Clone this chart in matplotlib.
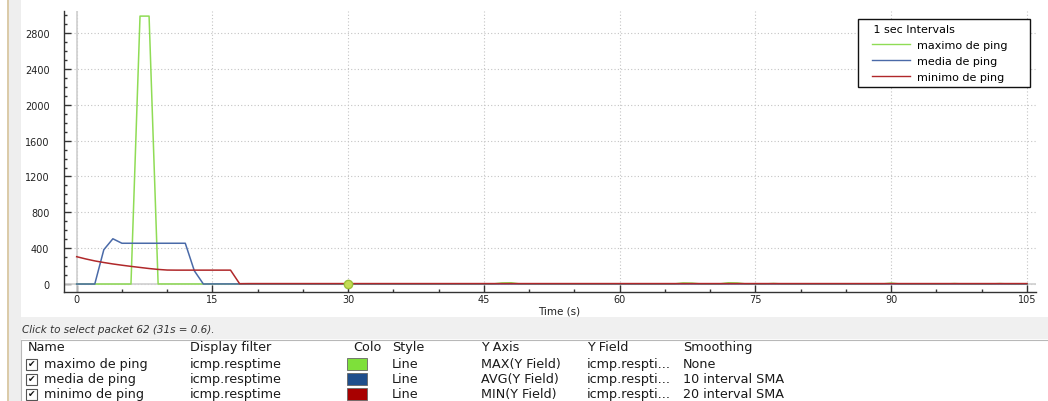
import numpy as np
import matplotlib
matplotlib.use("Agg")
import matplotlib.pyplot as plt
from matplotlib.patches import Rectangle
from matplotlib.lines import Line2D

# ---------------- data ----------------
time_s = list(range(0, 106))

max_ping = [0, 0, 0, 0, 0, 0, 0, 2990, 2990] + [0.6] * (106 - 9)
for t, v in {47: 12, 48: 14, 67: 12, 68: 10, 72: 14, 73: 12, 77: 6, 90: 10, 97: 5, 102: 5}.items():
    max_ping[t] = v

avg_ping = [0, 0, 0, 383, 505, 455, 455, 455, 455, 455, 455, 455, 455, 148, 0] + [1] * (106 - 15)

min_ping = [305, 280, 258, 240, 224, 210, 197, 185, 173, 163, 156,
            155, 155, 155, 155, 155, 155, 155, 4] + [5] * (106 - 19)

series_names = ["maximo de ping", "media de ping", "minimo de ping"]
line_colors = ["#8fdc55", "#4a6aa8", "#b0282a"]
swatch_colors = ["#7ee03a", "#1f4e8c", "#a80000"]
y_axis_fn = ["MAX(Y Field)", "AVG(Y Field)", "MIN(Y Field)"]
smoothing = ["None", "10 interval SMA", "20 interval SMA"]
display_filter = "icmp.resptime"
y_field = "icmp.respti..."
headers = ["Name", "Display filter", "Colo", "Style", "Y Axis", "Y Field", "Smoothing"]
header_x = [28, 190, 353, 392, 481, 587, 683]
status_text = "Click to select packet 62 (31s = 0.6)."
legend_title = "1 sec Intervals"

# ---------------- figure ----------------
W, H = 1048, 402
fig = plt.figure(figsize=(W / 100, H / 100), dpi=100)
fig.patch.set_facecolor("white")

def fx(x):
    return x / W

def fy(y):
    return 1 - y / H

def frect(x0, y0, x1, y1, **kw):
    fig.patches.append(Rectangle((fx(x0), fy(y1)), fx(x1) - fx(x0), fy(y0) - fy(y1),
                                 transform=fig.transFigure, figure=fig, **kw))

# background panels
frect(7, 0, 21, 402, facecolor="#eeeeee", edgecolor="none", zorder=0)
fig.add_artist(Line2D([fx(7.5), fx(7.5)], [0, 1], color="#d8c49c", lw=1.2, transform=fig.transFigure))
frect(21, 318, 1048, 340, facecolor="#f0f0f0", edgecolor="none", zorder=0)
fig.add_artist(Line2D([fx(21), fx(1048)], [fy(340.5), fy(340.5)], color="#b8b8b8", lw=0.8, transform=fig.transFigure))
fig.add_artist(Line2D([fx(21), fx(21)], [fy(340.5), 0], color="#b8b8b8", lw=0.8, transform=fig.transFigure))

# ---------------- plot ----------------
ax = fig.add_axes([fx(64), fy(293), fx(1036) - fx(64), fy(12) - fy(293)])
ax.set_facecolor("white")
ax.set_xlim(-1.4, 106.0)
ax.set_ylim(-89, 3047)

for s in ["top", "right"]:
    ax.spines[s].set_visible(False)
for s in ["left", "bottom"]:
    ax.spines[s].set_color("#333333")
    ax.spines[s].set_linewidth(1.0)

ax.set_xticks(np.arange(0, 106, 15))
ax.set_xticks(np.arange(0, 106, 5), minor=True)
ax.set_yticks(np.arange(0, 2801, 400))
ax.set_yticks(np.arange(0, 3001, 100), minor=True)
ax.tick_params(axis="both", which="major", direction="in", length=5, width=1,
               color="#333333", labelsize=7, labelcolor="#222222")
ax.tick_params(axis="both", which="minor", direction="in", length=2.5, width=1, color="#333333")
ax.tick_params(axis="y", which="major", pad=10.5)
ax.tick_params(axis="x", which="major", pad=1.5)

ax.grid(True, which="major", linestyle=(0, (1, 2)), color="#c4c4c4", linewidth=0.8)
ax.set_axisbelow(True)
ax.axhline(0, color="#cfcfcf", lw=1.2, zorder=1)
ax.axvline(0, color="#cfcfcf", lw=1.2, zorder=1)

ax.plot(time_s, max_ping, color=line_colors[0], lw=1.1, label=series_names[0], zorder=3)
ax.plot(time_s, avg_ping, color=line_colors[1], lw=1.1, label=series_names[1], zorder=4)
ax.plot(time_s, min_ping, color=line_colors[2], lw=1.1, label=series_names[2], zorder=5)
ax.plot([time_s[30]], [max_ping[30]], "o", ms=6, mfc="#c4dc55", mec="#9cc03a", mew=1, zorder=6)

ax.set_xlabel("Time (s)", fontsize=7.5, color="#222222")
ax.xaxis.set_label_coords((559 - 64) / 972, -(312 - 293) / 281, transform=ax.transAxes)
ax.xaxis.label.set_va("center")

fs_leg = 8
leg = ax.legend(loc="upper left",
                bbox_to_anchor=(fx(858), fy(88), fx(1030) - fx(858), fy(20) - fy(88)),
                bbox_transform=fig.transFigure, mode="expand",
                title="   " + legend_title, title_fontsize=fs_leg, fontsize=fs_leg, alignment="left",
                frameon=True, fancybox=False, shadow=False, handlelength=4.2, handletextpad=0.7,
                borderpad=0.45, labelspacing=0.55, borderaxespad=0)
leg.get_frame().set_edgecolor("#111111")
leg.get_frame().set_linewidth(1.0)
leg.get_frame().set_alpha(1)
for ln in leg.get_lines():
    ln.set_linewidth(1.0)
    xd = np.asarray(ln.get_xdata(), dtype=float).copy()
    xd[0] = xd[0] + 6.5
    ln.set_xdata(xd)

# ---------------- status and table ----------------
fig.text(fx(22), fy(330), status_text, fontsize=7.5, style="italic", color="#333333", va="center", ha="left")

tfont = dict(fontsize=9.2, color="#1a1a1a", va="center", ha="left", family="DejaVu Sans")
for hx, ht in zip(header_x, headers):
    fig.text(fx(hx), fy(348), ht, **tfont)

row_y = [365, 380, 395]
for i, ry in enumerate(row_y):
    frect(26, ry - 5.5, 37, ry + 5.5, facecolor="white", edgecolor="#555555", linewidth=0.8, zorder=2)
    fig.text(fx(31.5), fy(ry), "\u2714", fontsize=6.5, color="#111111", ha="center", va="center")
    fig.text(fx(44), fy(ry), series_names[i], **tfont)
    fig.text(fx(190), fy(ry), display_filter, **tfont)
    frect(347, ry - 6, 367, ry + 6, facecolor=swatch_colors[i], edgecolor="#666666", linewidth=0.6, zorder=2)
    fig.text(fx(392), fy(ry), "Line", **tfont)
    fig.text(fx(481), fy(ry), y_axis_fn[i], **tfont)
    fig.text(fx(587), fy(ry), y_field, **tfont)
    fig.text(fx(683), fy(ry), smoothing[i], **tfont)

fig.savefig("out.png", dpi=100)
